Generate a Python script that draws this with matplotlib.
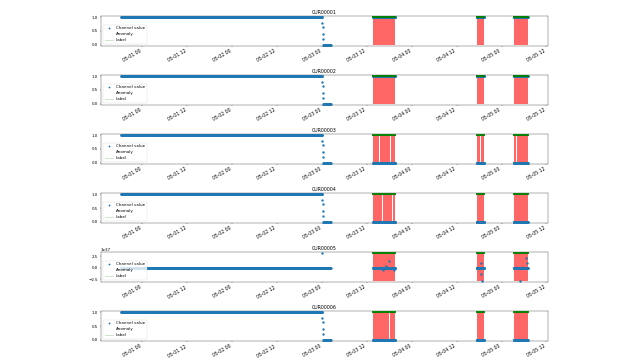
import numpy as np
import pandas as pd
import matplotlib
matplotlib.use("Agg")
import matplotlib.pyplot as plt
import matplotlib.dates as mdates
import matplotlib.ticker as mticker
from matplotlib.lines import Line2D

channels = ["CUR00001", "CUR00002", "CUR00003", "CUR00004", "CUR00005", "CUR00006"]

# channel value: long constant segment, a drop, a short low segment, then three data regions
high_start, high_end, high_value = "2024-04-30 18:25", "2024-05-03 00:00", 1.0
drop_times = ["2024-05-03 00:05", "2024-05-03 00:10", "2024-05-03 00:15", "2024-05-03 00:20"]
drop_values = [0.8, 0.65, 0.4, 0.2]
low_start, low_end, low_value = "2024-05-03 00:25", "2024-05-03 02:20", 0.0
region_starts = ["2024-05-03 13:40", "2024-05-04 17:20", "2024-05-05 03:15"]
region_ends = ["2024-05-03 19:35", "2024-05-04 19:20", "2024-05-05 07:00"]
region_values = [1.0, 1.0, 0.0, 0.0, 0.0, 0.0]   # channel value inside the regions, per channel

# outliers of CUR00005
outlier_times = ["2024-05-03 00:00", "2024-05-03 16:24", "2024-05-03 17:10", "2024-05-03 18:00",
                 "2024-05-03 19:20", "2024-05-04 18:30", "2024-05-04 18:36", "2024-05-04 18:44",
                 "2024-05-05 04:50", "2024-05-05 06:40", "2024-05-05 06:46"]
outlier_values = [3.1e37, -0.6e37, 0.4e37, 1.4e37, -0.6e37, 0.95e37, -1.4e37, -2.8e37,
                  -2.8e37, 2.2e37, 0.95e37]

# short periods inside the regions that are NOT flagged as anomaly, per channel
anomaly_gaps = {
    "CUR00001": [],
    "CUR00002": [],
    "CUR00003": [("2024-05-03 15:20", "2024-05-03 15:22"), ("2024-05-03 16:50", "2024-05-03 16:52"),
                 ("2024-05-03 18:20", "2024-05-03 18:22"), ("2024-05-04 18:20", "2024-05-04 18:22"),
                 ("2024-05-05 04:00", "2024-05-05 04:02"), ("2024-05-05 04:50", "2024-05-05 04:52")],
    "CUR00004": [("2024-05-03 14:40", "2024-05-03 14:42"), ("2024-05-03 16:10", "2024-05-03 16:12"),
                 ("2024-05-03 17:40", "2024-05-03 17:42"), ("2024-05-03 18:50", "2024-05-03 18:52"),
                 ("2024-05-04 18:10", "2024-05-04 18:12"), ("2024-05-05 03:50", "2024-05-05 03:52"),
                 ("2024-05-05 05:00", "2024-05-05 05:02")],
    "CUR00005": [],
    "CUR00006": [("2024-05-03 15:00", "2024-05-03 15:02"), ("2024-05-03 16:30", "2024-05-03 16:32"),
                 ("2024-05-03 18:00", "2024-05-03 18:02"), ("2024-05-04 18:30", "2024-05-04 18:32"),
                 ("2024-05-05 04:10", "2024-05-05 04:12"), ("2024-05-05 05:10", "2024-05-05 05:12")],
}

step = "2min"

fig, axes = plt.subplots(6, 1, figsize=(640 / 27.5, 360 / 27.5), dpi=27.5)
fig.subplots_adjust(left=101 / 640, right=548 / 640, top=1 - 16 / 360, bottom=1 - 341 / 360,
                    hspace=0.97)

for i, (ax, name) in enumerate(zip(axes, channels)):
    t_high = pd.date_range(high_start, high_end, freq=step)
    t_low = pd.date_range(low_start, low_end, freq=step)
    times = list(t_high) + list(pd.to_datetime(drop_times)) + list(t_low)
    vals = [high_value] * len(t_high) + drop_values + [low_value] * len(t_low)
    reg_t, reg_flag = [], []
    gaps = [(pd.Timestamp(a), pd.Timestamp(b)) for a, b in anomaly_gaps[name]]
    for s, e in zip(region_starts, region_ends):
        tr = pd.date_range(s, e, freq=step)
        reg_t.append(tr)
        fl = np.ones(len(tr), dtype=bool)
        for a, b in gaps:
            fl &= ~((tr >= a) & (tr <= b))
        reg_flag.append(fl)
        times += list(tr)
        vals += [region_values[i]] * len(tr)
    times = pd.DatetimeIndex(times)
    vals = np.array(vals, dtype=float)
    if name == "CUR00005":
        ot = pd.to_datetime(outlier_times)
        for tt, vv in zip(ot, outlier_values):
            idx = np.where(times == tt)[0]
            if len(idx):
                vals[idx[0]] = vv
            else:
                times = times.append(pd.DatetimeIndex([tt]))
                vals = np.append(vals, vv)
        order = np.argsort(times.values)
        times = times[order]
        vals = vals[order]
    vmin, vmax = vals.min(), vals.max()

    ax.plot(times, vals, ".", color="#1f77b4", ms=10, zorder=3)
    for tr, fl in zip(reg_t, reg_flag):
        ax.fill_between(tr, vmin, vmax, where=fl, color="red", alpha=0.6, lw=0, zorder=2)
        ax.plot(tr, [vmax] * len(tr), color="green", lw=5, zorder=4)

    ax.set_title(name, fontsize=12.5)
    ax.xaxis.set_major_locator(mdates.HourLocator(byhour=[0, 12]))
    ax.xaxis.set_major_formatter(mdates.DateFormatter("%m-%d %H"))
    ax.tick_params(axis="x", labelsize=12, labelrotation=30)
    for lab in ax.get_xticklabels():
        lab.set_ha("right")
    ax.tick_params(axis="y", labelsize=10.5)
    if name == "CUR00005":
        ax.yaxis.set_major_locator(mticker.MultipleLocator(2.5e37))
        ax.yaxis.get_offset_text().set_fontsize(10.5)

    handles = [
        Line2D([], [], marker=".", ls="none", color="#1f77b4", ms=7),
        Line2D([], [], color="none"),
        Line2D([], [], color="green", alpha=0.35, lw=1.5),
    ]
    ax.legend(handles, ["Channel value", "Anomaly", "Label"], loc="lower left", fontsize=10.5)

fig.savefig("out.png", dpi=27.5)
